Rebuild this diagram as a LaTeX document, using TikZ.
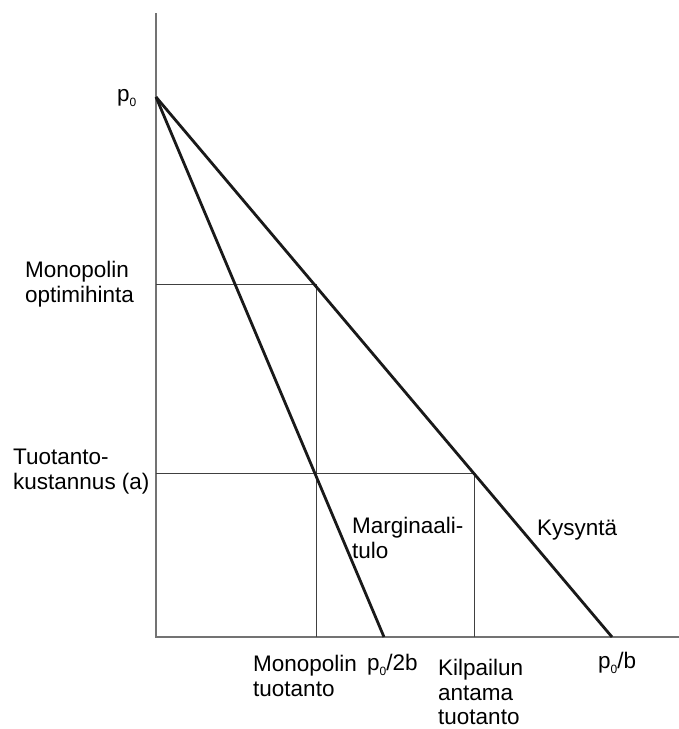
\documentclass[tikz,border=0pt]{standalone}
\usepackage{fontspec}
\setmainfont{Liberation Sans}
\usetikzlibrary{positioning,calc}

\tikzset{
  axisline/.style={draw=black!55,line width=1.3pt},
  guideline/.style={draw=black!75,line width=0.8pt},
  curveline/.style={draw=black!90,line width=2.8pt},
  lbl/.style={inner sep=0pt,align=left,font=\fontsize{22.5}{24.5}\selectfont}
}
\newcommand{\pnull}{p\raisebox{-0.45ex}{\fontsize{12}{14}\selectfont 0}}

\begin{document}
\begin{tikzpicture}[x=1pt,y=-1pt]
    \useasboundingbox (0,0) rectangle (679,729);

    % axes
    \coordinate (O) at (156,637);
    \coordinate (ytop) at (156,13);
    \coordinate (xend) at (679,637);
    \draw[axisline] (ytop) -- (O) -- (xend);

    % points
    \coordinate (p0) at (156,97);
    \coordinate (mrend) at (384,637);
    \coordinate (dend) at (612,637);
    \coordinate (mprice) at (156,284);
    \coordinate (mpt) at (316,284);
    \coordinate (mq) at (316,637);
    \coordinate (cost) at (156,473);
    \coordinate (cpt) at (474,473);
    \coordinate (cq) at (474,637);

    % guides
    \draw[guideline] (mprice) -- (mpt) -- (mq);
    \draw[guideline] (cost) -- (cpt) -- (cq);

    % demand and marginal revenue
    \draw[curveline] (p0) -- (mrend);
    \draw[curveline] (p0) -- (dend);

    % labels
    \node[lbl,anchor=base west] (lp0) at (117,101) {\pnull};
    \node[lbl,anchor=north west] (lmp) at (25,261) {Monopolin\\optimihinta};
    \node[lbl,anchor=north west] (lcost) at (13,449) {Tuotanto-\\kustannus (a)};
    \node[lbl,anchor=north west] (lmq) at (253,655) {Monopolin\\tuotanto};
    \node[lbl,anchor=base west] (lmr0) at (367,670) {\pnull/2b};
    \node[lbl,anchor=north west] (lcq) at (438,659) {Kilpailun\\antama\\tuotanto};
    \node[lbl,anchor=base west] (ld0) at (598,668) {\pnull/b};
    \node[lbl,anchor=north west] (lmr) at (352,517) {Marginaali-\\tulo};
    \node[lbl,anchor=base west] (ld) at (537,535) {Kysyntä};
\end{tikzpicture}
\end{document}
